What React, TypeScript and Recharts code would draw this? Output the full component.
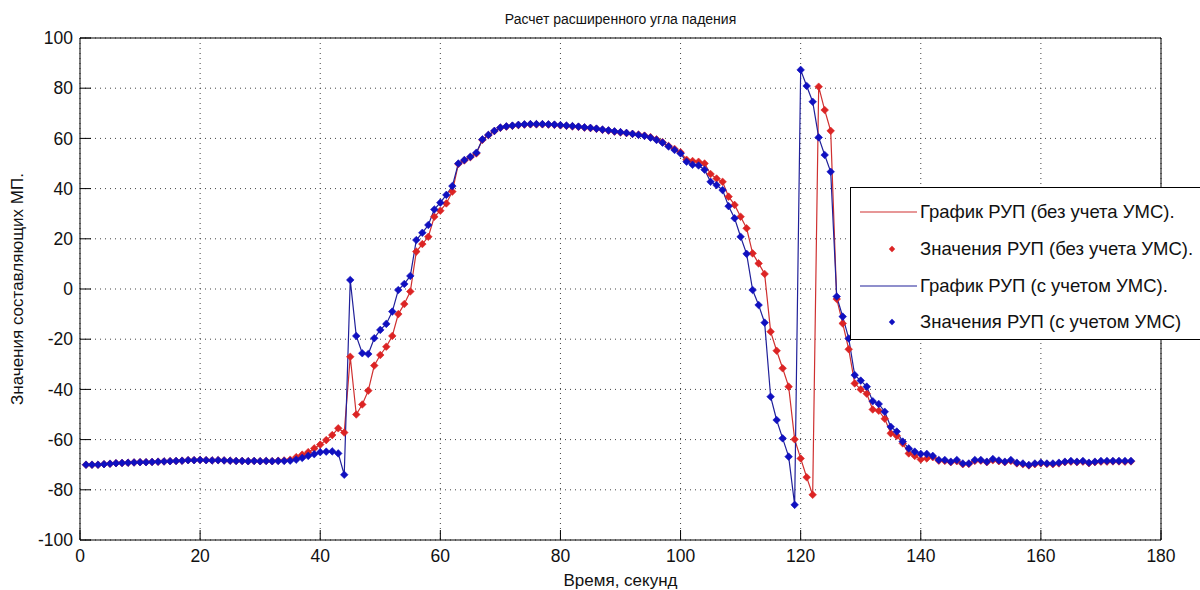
import { CartesianGrid, Legend, Line, LineChart, XAxis, YAxis } from "recharts"

const FONT = '"Liberation Sans", Arial, sans-serif'

const chartTitle = "Расчет расширенного угла падения"
const xLabel = "Время, секунд"
const yLabel = "Значения составляющих МП."

const xTicks = [0, 20, 40, 60, 80, 100, 120, 140, 160, 180]
const yTicks = [-100, -80, -60, -40, -20, 0, 20, 40, 60, 80, 100]

// seconds
const timeSec = [
  1, 2, 3, 4, 5, 6, 7, 8, 9, 10, 11, 12, 13, 14, 15, 16, 17, 18, 19, 20,
  21, 22, 23, 24, 25, 26, 27, 28, 29, 30, 31, 32, 33, 34, 35, 36, 37, 38, 39, 40,
  41, 42, 43, 44, 45, 46, 47, 48, 49, 50, 51, 52, 53, 54, 55, 56, 57, 58, 59, 60,
  61, 62, 63, 64, 65, 66, 67, 68, 69, 70, 71, 72, 73, 74, 75, 76, 77, 78, 79, 80,
  81, 82, 83, 84, 85, 86, 87, 88, 89, 90, 91, 92, 93, 94, 95, 96, 97, 98, 99, 100,
  101, 102, 103, 104, 105, 106, 107, 108, 109, 110, 111, 112, 113, 114, 115, 116, 117, 118, 119, 120,
  121, 122, 123, 124, 125, 126, 127, 128, 129, 130, 131, 132, 133, 134, 135, 136, 137, 138, 139, 140,
  141, 142, 143, 144, 145, 146, 147, 148, 149, 150, 151, 152, 153, 154, 155, 156, 157, 158, 159, 160,
  161, 162, 163, 164, 165, 166, 167, 168, 169, 170, 171, 172, 173, 174, 175,
]

// РУП без учета УМС (красный)
const rupNoUms = [
  -70, -70, -70, -69.8, -69.6, -69.4, -69.3, -69.2, -69.1, -69,
  -69, -68.9, -68.8, -68.7, -68.6, -68.5, -68.4, -68.2, -68.2, -68.1,
  -68.2, -68.3, -68.2, -68.3, -68.4, -68.5, -68.5, -68.6, -68.5, -68.6,
  -68.5, -68.6, -68.4, -68.3, -68, -67, -66, -65, -63.5, -62,
  -60.2, -58.2, -55.5, -57.2, -27, -50, -46, -40.5, -30.5, -26.3,
  -23, -18.7, -10, -6, -1, 14.9, 17.9, 20.8, 28.8, 31.2,
  34.1, 38.8, 49.8, 51.2, 52.5, 54, 59.4, 61.3, 62.9, 64.2,
  64.7, 65, 65.3, 65.5, 65.6, 65.6, 65.6, 65.5, 65.4, 65.2,
  65, 64.8, 64.6, 64.3, 64.1, 63.8, 63.4, 63.1, 62.7, 62.4,
  62.1, 61.8, 61.5, 61.1, 60.5, 59.6, 58.5, 57, 55.8, 54.5,
  51.5, 51, 50.7, 50, 45.8, 44, 42.7, 36.8, 33.5, 28.8,
  24.2, 14.2, 10.2, 6, -17, -24.6, -31.6, -38.9, -59.9, -67.5,
  -75, -82, 80.6, 71.3, 63, -4, -13.7, -24, -37.6, -40,
  -41.7, -48, -48.5, -51.7, -57.5, -58.5, -61.5, -65.5, -66.5, -67.9,
  -67.5, -67, -68.4, -68.5, -69, -68.6, -69.8, -69.7, -68.5, -68.4,
  -69, -68.2, -68.6, -69, -68.5, -69.5, -69.8, -70.3, -69.8, -69.5,
  -69.7, -69.8, -69.5, -69, -68.8, -69, -68.8, -69.4, -69, -68.8,
  -68.8, -68.7, -68.7, -68.8, -68.7,
]

// РУП с учетом УМС (синий)
const rupWithUms = [
  -70, -70, -70, -69.8, -69.6, -69.4, -69.3, -69.2, -69.1, -69,
  -69, -68.9, -68.8, -68.7, -68.6, -68.5, -68.4, -68.2, -68.2, -68.1,
  -68.2, -68.3, -68.2, -68.3, -68.4, -68.5, -68.5, -68.6, -68.5, -68.6,
  -68.5, -68.6, -68.5, -68.5, -68.4, -68, -67.3, -66.5, -65.8, -65,
  -64.8, -64.7, -65.5, -74, 3.6, -18.7, -25.6, -25.9, -19.6, -16.3,
  -13.9, -9, -0.4, 2, 5.2, 19.5, 22.4, 25.5, 31.7, 34.4,
  37.5, 41, 50, 51.4, 52.7, 54.3, 59.6, 61.4, 63, 64.3,
  64.8, 65.1, 65.4, 65.6, 65.7, 65.7, 65.7, 65.6, 65.5, 65.3,
  65.1, 64.9, 64.7, 64.4, 64.2, 63.9, 63.5, 63.2, 62.8, 62.5,
  62.2, 61.8, 61.4, 61, 60.3, 59.4, 58.3, 56.8, 55.4, 54,
  50.7, 49.5, 49.2, 47.5, 42.7, 41.4, 39.4, 33, 28.2, 20.8,
  14, -0.4, -6.4, -13.4, -42.9, -52.2, -59.5, -66.8, -86, 87.3,
  80.9, 74.6, 60.4, 53.4, 46.7, -3, -11, -19.7, -34.3, -36.5,
  -38.9, -44.7, -45.8, -48.9, -54.9, -56.8, -60.8, -63.5, -64.8, -65.7,
  -65.7, -66.5, -68.1, -68.1, -68.8, -68.1, -69.5, -69.5, -68.1, -68.1,
  -68.8, -67.7, -68.3, -68.8, -68.1, -69.2, -69.5, -70.1, -69.5, -69.2,
  -69.5, -69.5, -69.2, -68.8, -68.5, -68.8, -68.5, -69.2, -68.8, -68.5,
  -68.5, -68.5, -68.5, -68.5, -68.5,
]

const RED_LINE = "#cf3030"
const RED_MARK = "#dc2424"
const BLUE_LINE = "#20209a"
const BLUE_MARK = "#1010c0"

const legendItems = [
  { label: "График РУП (без учета УМС).", color: RED_LINE, kind: "line" },
  { label: "Значения РУП (без учета УМС).", color: RED_MARK, kind: "dot" },
  { label: "График РУП (с учетом УМС).", color: BLUE_LINE, kind: "line" },
  { label: "Значения РУП (с учетом УМС)", color: BLUE_MARK, kind: "dot" },
]

const rows = timeSec.map((t, i) => ({
  t,
  noUms: rupNoUms[i],
  withUms: rupWithUms[i],
}))

function diamond(cx: number, cy: number, r: number) {
  return `M${cx},${cy - r}L${cx + r},${cy}L${cx},${cy + r}L${cx - r},${cy}Z`
}

function makeDot(color: string) {
  return (props: any) => {
    const { cx, cy, index } = props
    if (cx == null || cy == null) return <g key={`d-${index}`} />
    return (
      <path
        key={`d-${index}`}
        d={diamond(cx, cy, 3.8)}
        fill={color}
        stroke={color}
        strokeWidth={0.6}
      />
    )
  }
}

function LegendBox() {
  return (
    <div
      style={{
        width: 360,
        height: 153,
        boxSizing: "border-box",
        border: "1px solid #000",
        background: "#fff",
        paddingTop: 6,
        fontFamily: FONT,
        fontSize: 18.5,
        color: "#111",
      }}
    >
      {legendItems.map((it) => (
        <div
          key={it.label}
          style={{ display: "flex", alignItems: "center", height: 36.7 }}
        >
          <svg width={69} height={20} style={{ flex: "none" }}>
            {it.kind === "line" ? (
              <line x1={9} x2={66} y1={10} y2={10} stroke={it.color} strokeWidth={1.2} />
            ) : (
              <path d={diamond(41, 10, 3.2)} fill={it.color} />
            )}
          </svg>
          <span style={{ whiteSpace: "nowrap" }}>{it.label}</span>
        </div>
      ))}
    </div>
  )
}

const tickStyle = { fontSize: 17.5, fill: "#111", fontFamily: FONT }

export default function App() {
  return (
    <div
      style={{
        position: "absolute",
        left: 0,
        top: 0,
        width: 1200,
        height: 590,
        overflow: "hidden",
        background: "#fff",
      }}
    >
      <div
        style={{
          position: "absolute",
          left: 0,
          width: 1241,
          top: 11,
          textAlign: "center",
          fontFamily: FONT,
          fontSize: 14,
          color: "#111",
        }}
      >
        {chartTitle}
      </div>
      <div
        style={{
          position: "absolute",
          left: 18,
          top: 289,
          transform: "translate(-50%, -50%) rotate(-90deg)",
          whiteSpace: "nowrap",
          fontFamily: FONT,
          fontSize: 17,
          color: "#111",
        }}
      >
        {yLabel}
      </div>
      <LineChart
        width={1200}
        height={590}
        data={rows}
        margin={{ top: 37, right: 38, bottom: 0, left: 0 }}
      >
        <CartesianGrid stroke="#444" strokeDasharray="1 4" />
        <XAxis
          dataKey="t"
          type="number"
          domain={[0, 180]}
          ticks={xTicks}
          height={50}
          tick={tickStyle}
          tickSize={-10}
          tickMargin={20}
          tickLine={{ stroke: "#000" }}
          axisLine={{ stroke: "#000" }}
          label={{
            value: xLabel,
            position: "insideBottom",
            offset: 4,
            fontSize: 17,
            fill: "#111",
            fontFamily: FONT,
          }}
        />
        <XAxis
          xAxisId="top"
          orientation="top"
          dataKey="t"
          type="number"
          domain={[0, 180]}
          ticks={xTicks}
          height={1}
          tick={false}
          tickSize={-10}
          tickLine={{ stroke: "#000" }}
          axisLine={{ stroke: "#000" }}
        />
        <YAxis
          type="number"
          domain={[-100, 100]}
          ticks={yTicks}
          width={80}
          tick={tickStyle}
          tickSize={-11}
          tickMargin={18}
          tickLine={{ stroke: "#000" }}
          axisLine={{ stroke: "#000" }}
        />
        <YAxis
          yAxisId="right"
          orientation="right"
          type="number"
          domain={[-100, 100]}
          ticks={yTicks}
          width={1}
          tick={false}
          tickSize={-11}
          tickLine={{ stroke: "#000" }}
          axisLine={{ stroke: "#000" }}
        />
        <Line
          type="linear"
          dataKey="noUms"
          stroke={RED_LINE}
          strokeWidth={1.2}
          dot={makeDot(RED_MARK)}
          activeDot={false}
          isAnimationActive={false}
        />
        <Line
          type="linear"
          dataKey="withUms"
          stroke={BLUE_LINE}
          strokeWidth={1.2}
          dot={makeDot(BLUE_MARK)}
          activeDot={false}
          isAnimationActive={false}
        />
        <Legend
          layout="vertical"
          align="center"
          verticalAlign="middle"
          content={() => <LegendBox />}
          wrapperStyle={{ left: 850, top: 187, width: 360, height: 153 }}
        />
      </LineChart>
    </div>
  )
}
